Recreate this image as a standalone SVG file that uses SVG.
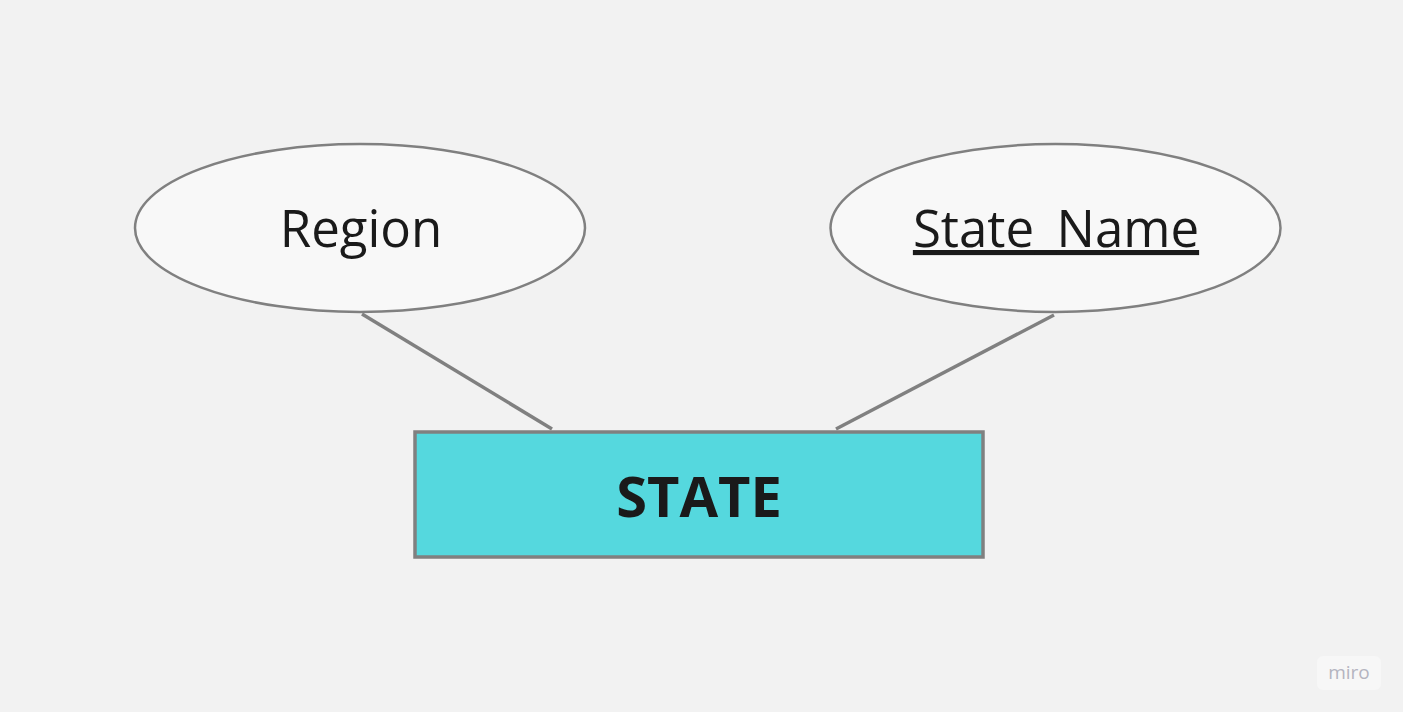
<svg xmlns="http://www.w3.org/2000/svg" width="1403" height="712" viewBox="0 0 1403 712">
<style>
.attr{fill:#f8f8f8;stroke:#808080;stroke-width:2.5}
.lbl{font-family:"Open Sans",sans-serif;font-size:51px;fill:#1a1a1a;text-anchor:middle}
.conn{stroke:#808080;stroke-width:3.5;fill:none}
</style>
<rect width="1403" height="712" fill="#f2f2f2"/>
<g id="connectors">
<line class="conn" x1="362" y1="314" x2="552" y2="429"/>
<line class="conn" x1="1054" y1="315" x2="836" y2="429"/>
</g>
<g id="region">
<ellipse class="attr" cx="360" cy="228" rx="225" ry="84"/>
<text class="lbl" x="361" y="247">Region</text>
</g>
<g id="state_name">
<ellipse class="attr" cx="1055.5" cy="228" rx="225" ry="84"/>
<text class="lbl" x="1056" y="247" text-decoration="underline">State_Name</text>
</g>
<g id="state">
<rect x="415" y="432" width="568" height="125" fill="#55d8de" stroke="#808080" stroke-width="3.5"/>
<text x="699" y="517" font-family="Open Sans, sans-serif" font-size="56" font-weight="bold" fill="#1a1a1a" text-anchor="middle">STATE</text>
</g>
<g id="watermark">
<rect x="1317" y="656" width="64" height="34" rx="6" fill="#f7f7f7"/>
<text x="1349" y="679" font-family="Open Sans, sans-serif" font-size="19" fill="#b4b4c0" text-anchor="middle">miro</text>
</g>
</svg>
